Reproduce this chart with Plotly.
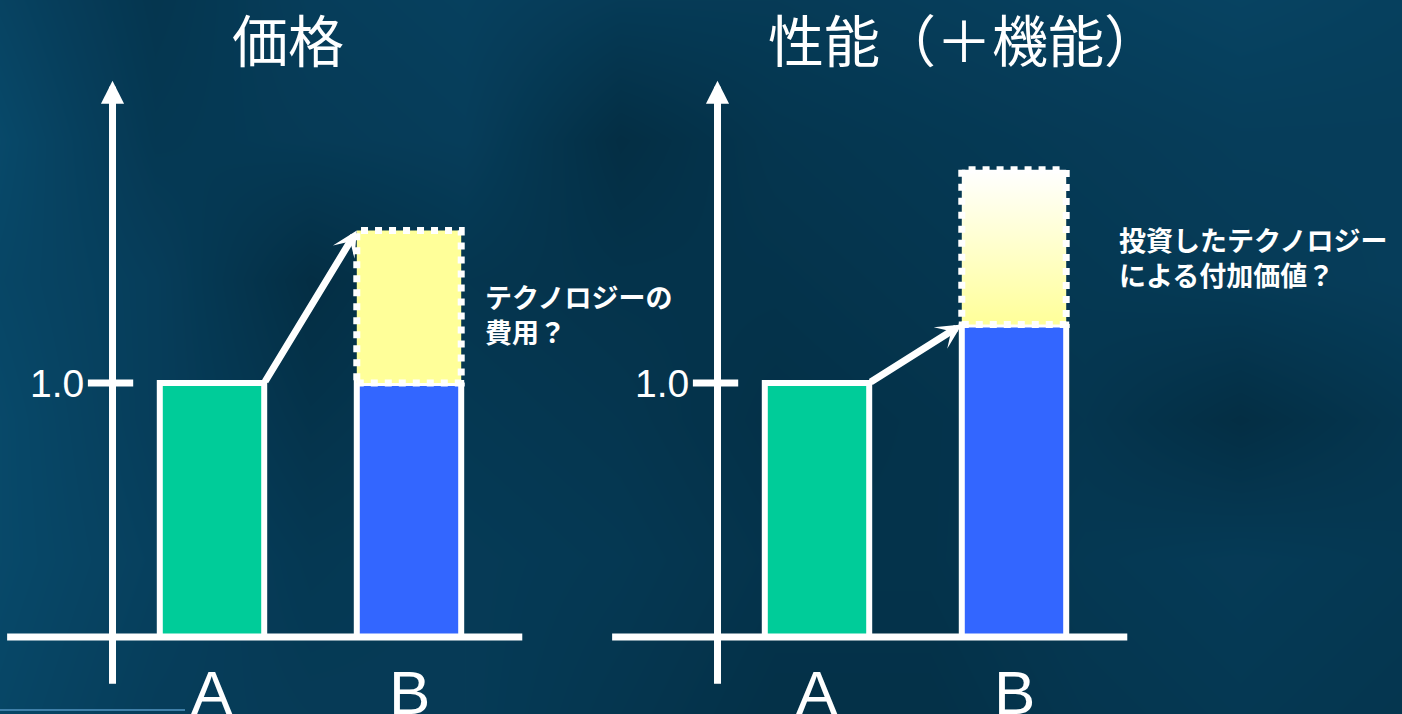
import plotly.graph_objects as go

# ---- data -------------------------------------------------------------
categories = ["A", "B"]
cat_pos = [1, 2]

price_base = [1.0, 1.0]          # A, B (B's own part)
price_tech_cost = 0.6            # extra cost of technology on top of B

perf_base = [1.0, 1.23]          # A, B
perf_added_value = 0.61          # value added by the invested technology

unit_label = "1.0"
titles = ["価格", "性能（＋機能）"]
notes = ["テクノロジーの<br>費用？", "投資したテクノロジー<br>による付加価値？"]

# soft backdrop shading (0 = darkest, 1 = lightest) on a coarse grid
bg_cols = [0, 155, 310, 465, 620, 775, 930, 1085, 1240, 1402]
bg_rows = [0, 140, 280, 420, 560, 714]
bg_shade = [
    [0.60, 0.35, 0.50, 0.55, 0.45, 0.45, 0.50, 0.55, 0.60, 0.55],
    [0.70, 0.40, 0.45, 0.50, 0.20, 0.35, 0.40, 0.45, 0.50, 0.50],
    [0.65, 0.50, 0.20, 0.35, 0.30, 0.30, 0.35, 0.40, 0.45, 0.50],
    [0.70, 0.50, 0.30, 0.40, 0.35, 0.25, 0.30, 0.35, 0.20, 0.35],
    [0.70, 0.55, 0.40, 0.45, 0.40, 0.30, 0.30, 0.40, 0.45, 0.40],
    [0.65, 0.50, 0.45, 0.45, 0.35, 0.25, 0.25, 0.35, 0.40, 0.35],
]

# ---- styling ----------------------------------------------------------
W, H = 1402, 714
BG = "#053650"
GREEN = "#00CC99"
BLUE = "#3366FF"
YELLOW = "#FFFF99"
WHITE = "#FFFFFF"
JP = "Noto Sans CJK JP"
LATIN = "Liberation Sans, Arial"

bar_w = 0.53
px_per_unit = 197.0              # horizontal pixels per category step
base_px, unit_px = 637.0, 254.0  # y=0 line and height of 1.0 in pixels
y_range = [-(H - base_px) / unit_px, base_px / unit_px]

panels = [
    dict(xa="x2", dom=(0.0, 0.43), a_px=212.0, base=price_base,
         extra=price_tech_cost, gradient=False, title=titles[0],
         title_px=288, note=notes[0], note_px=(483, 314)),
    dict(xa="x3", dom=(0.43, 1.0), a_px=817.0, base=perf_base,
         extra=perf_added_value, gradient=True, title=titles[1],
         title_px=964, note=notes[1], note_px=(1117, 257)),
]

fig = go.Figure()

# backdrop on the first (lowest) full-page axes pair
fig.add_trace(go.Heatmap(x=bg_cols, y=bg_rows, z=bg_shade, zsmooth="best",
                         zmin=0, zmax=1, showscale=False, hoverinfo="skip",
                         colorscale=[[0, "#022435"], [0.5, "#063d5a"],
                                     [1, "#0a5a80"]],
                         xaxis="x", yaxis="y"))

shapes, annotations = [], []
layout_axes = {}

for i, p in enumerate(panels):
    xa = p["xa"]
    d0, d1 = p["dom"]
    left_px, right_px = d0 * W, d1 * W
    x_range = [1 - (p["a_px"] - left_px) / px_per_unit,
               1 + (right_px - p["a_px"]) / px_per_unit]
    key = "xaxis2" if i == 0 else "xaxis3"
    layout_axes[key] = dict(domain=[d0, d1], range=x_range, visible=False,
                            fixedrange=True, anchor="y2")

    yaxis_x = 0.495
    # horizontal axis line
    shapes.append(dict(type="line", xref=xa, yref="y2", x0=-0.04, x1=2.575,
                       y0=0, y1=0, line=dict(color=WHITE, width=7),
                       layer="above"))
    # tick at 1.0
    shapes.append(dict(type="line", xref=xa, yref="y2", x0=yaxis_x - 0.125,
                       x1=yaxis_x + 0.105, y0=1.0, y1=1.0,
                       line=dict(color=WHITE, width=7), layer="above"))
    # vertical axis with arrow head
    annotations.append(dict(x=yaxis_x, y=2.19, ax=yaxis_x, ay=-0.19,
                            xref=xa, yref="y2", axref=xa, ayref="y2", text="",
                            showarrow=True, arrowhead=2, arrowsize=0.66,
                            arrowwidth=7, arrowcolor=WHITE))
    annotations.append(dict(x=yaxis_x - 0.125, y=1.0, xref=xa, yref="y2",
                            text=unit_label, showarrow=False, xanchor="right",
                            xshift=-2, font=dict(family=LATIN, size=39,
                                                 color=WHITE)))

    # base bars
    fig.add_trace(go.Bar(x=cat_pos, y=p["base"], width=bar_w,
                         marker=dict(color=[GREEN, BLUE],
                                     line=dict(color=WHITE, width=6)),
                         xaxis=xa, yaxis="y2", showlegend=False,
                         hoverinfo="skip"))

    # dashed box stacked on B
    b = cat_pos[1]
    lo = p["base"][1]
    hi = lo + p["extra"]
    bx = [b - bar_w / 2, b + bar_w / 2, b + bar_w / 2, b - bar_w / 2,
          b - bar_w / 2]
    by = [lo, lo, hi, hi, lo]
    box = dict(x=bx, y=by, mode="lines", fill="toself",
               line=dict(color=WHITE, width=7, dash="7px,7px"),
               xaxis=xa, yaxis="y2", showlegend=False, hoverinfo="skip")
    if p["gradient"]:
        box["fillgradient"] = dict(type="vertical",
                                   colorscale=[[0, YELLOW], [1, WHITE]])
    else:
        box["fillcolor"] = YELLOW
    fig.add_trace(go.Scatter(**box))

    # arrow from top of A to the target level on B
    tip_y = hi if not p["gradient"] else lo
    annotations.append(dict(x=b - bar_w / 2, y=tip_y,
                            ax=cat_pos[0] + bar_w / 2, ay=p["base"][0],
                            xref=xa, yref="y2", axref=xa, ayref="y2", text="",
                            showarrow=True, arrowhead=3, arrowsize=0.6,
                            arrowwidth=7, arrowcolor=WHITE))

    # category labels
    for c, pos in zip(categories, cat_pos):
        annotations.append(dict(x=pos, y=-(692 - base_px) / unit_px,
                                xref=xa, yref="y2", text=c, showarrow=False,
                                yanchor="middle",
                                font=dict(family=LATIN, size=62,
                                          color=WHITE)))

    # panel title
    annotations.append(dict(x=p["title_px"] / W, y=1 - 37 / H, xref="paper",
                            yref="paper", text=p["title"], showarrow=False,
                            xanchor="center", yanchor="middle",
                            font=dict(family=JP, size=56, color=WHITE)))
    # side note
    nx, ny = p["note_px"]
    annotations.append(dict(x=nx / W, y=1 - ny / H, xref="paper",
                            yref="paper", text="<b>" + p["note"] + "</b>",
                            showarrow=False, xanchor="left",
                            yanchor="middle", align="left",
                            font=dict(family=JP, size=27, color=WHITE)))

# thin light strip at the lower-left edge
shapes.append(dict(type="line", xref="paper", yref="paper", x0=0,
                   x1=185 / W, y0=1 - 710 / H, y1=1 - 710 / H,
                   line=dict(color="#3f7fa8", width=2), layer="above"))

fig.update_layout(
    width=W, height=H,
    margin=dict(l=0, r=0, t=0, b=0),
    paper_bgcolor=BG, plot_bgcolor="rgba(0,0,0,0)",
    xaxis=dict(domain=[0, 1], range=[0, W], visible=False, fixedrange=True,
               anchor="y"),
    yaxis=dict(domain=[0, 1], range=[H, 0], visible=False, fixedrange=True,
               anchor="x"),
    yaxis2=dict(domain=[0, 1], range=y_range, visible=False, fixedrange=True,
                anchor="x2"),
    barmode="overlay",
    shapes=shapes, annotations=annotations,
    showlegend=False,
    **layout_axes,
)

fig.write_html("out.html", config={"displayModeBar": False})
